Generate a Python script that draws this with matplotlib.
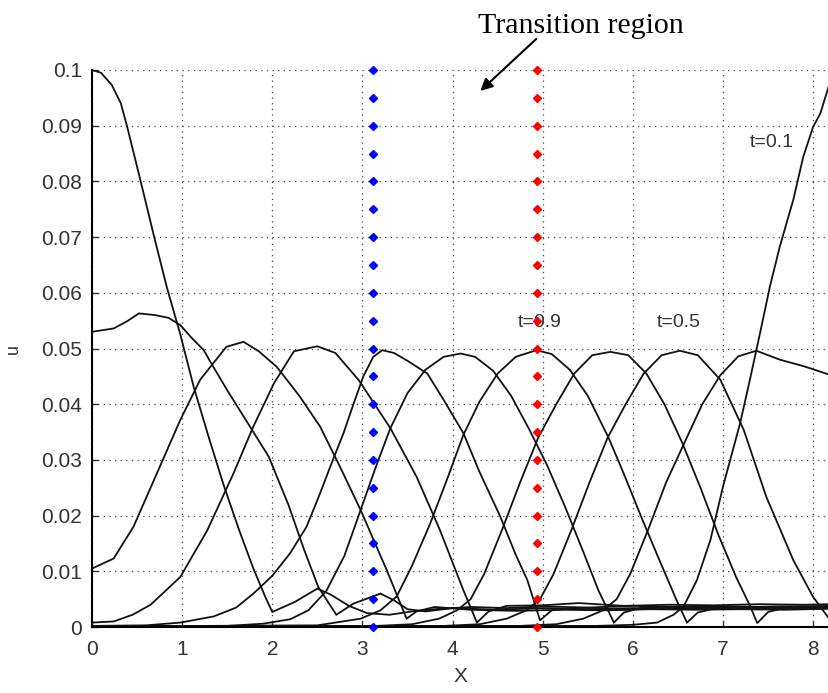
import matplotlib
matplotlib.use("Agg")
import matplotlib.pyplot as plt

# --- datos ---
# curva que arranca en u=0.1 en x=0
x_l0 = [0, 0.1, 0.22, 0.32, 0.39, 0.54, 0.69, 0.83, 0.98, 1.13, 1.3, 1.46, 1.63, 1.79, 1.92, 2.0,
        2.25, 2.5, 2.65, 2.85, 3.05, 3.3, 3.55, 3.8, 4.2, 4.6, 5.0, 5.5, 6.0, 6.5, 7.0, 7.5, 8.2]
u_l0 = [0.1, 0.0995, 0.0973, 0.094, 0.0898, 0.08, 0.07, 0.061, 0.0525, 0.043, 0.0338, 0.0255, 0.0175,
        0.0105, 0.0055, 0.0027, 0.0045, 0.0069, 0.0058, 0.0038, 0.0025, 0.0022, 0.0028, 0.0032, 0.0036,
        0.0034, 0.0037, 0.0035, 0.0038, 0.0036, 0.0037, 0.0036, 0.0038]

x_p1 = [0, 0.24, 0.4, 0.52, 0.7, 0.85, 0.98, 1.1, 1.24, 1.31, 1.5, 1.74, 1.96, 2.18, 2.35, 2.51, 2.71,
        2.9, 3.2, 3.35, 3.5, 3.7, 4.0, 4.5, 5.0, 5.5, 6.0, 6.5, 7.0, 7.5, 8.2]
u_p1 = [0.053, 0.0536, 0.055, 0.0563, 0.056, 0.0555, 0.0542, 0.052, 0.0497, 0.0477, 0.0425, 0.0363,
        0.0306, 0.0219, 0.014, 0.0072, 0.0022, 0.0042, 0.006, 0.0048, 0.0032, 0.0028, 0.0034, 0.0031,
        0.0034, 0.0032, 0.0034, 0.0033, 0.0035, 0.0034, 0.0035]

x_p2 = [0, 0.24, 0.46, 0.72, 0.98, 1.2, 1.49, 1.68, 1.85, 2.05, 2.3, 2.53, 2.75, 2.98, 3.27, 3.49,
        3.6, 3.8, 4.2, 4.7, 5.2, 5.7, 6.2, 6.7, 7.2, 7.7, 8.2]
u_p2 = [0.0105, 0.0123, 0.018, 0.0276, 0.0372, 0.0444, 0.0503, 0.0512, 0.0495, 0.0467, 0.0415, 0.036,
        0.0288, 0.021, 0.0102, 0.0015, 0.0028, 0.0036, 0.0031, 0.0029, 0.0031, 0.003, 0.0032, 0.0031,
        0.0032, 0.0031, 0.0033]

x_p3 = [0, 0.24, 0.45, 0.65, 0.98, 1.28, 1.57, 1.79, 2.02, 2.24, 2.5, 2.7, 2.96, 3.31, 3.6, 3.86,
        4.12, 4.27, 4.4, 4.6, 5.0, 5.4, 5.9, 6.4, 6.9, 7.4, 7.9, 8.2]
u_p3 = [0.0008, 0.001, 0.0022, 0.004, 0.009, 0.0174, 0.0276, 0.036, 0.0438, 0.0495, 0.0504, 0.0492,
        0.0443, 0.0357, 0.027, 0.0174, 0.0066, 0.0008, 0.0028, 0.0038, 0.0039, 0.0043, 0.0038, 0.004,
        0.0039, 0.0041, 0.004, 0.0041]

x_p4 = [0, 0.6, 0.98, 1.35, 1.6, 1.79, 2.0, 2.2, 2.38, 2.53, 2.66, 2.79, 2.9, 3.01, 3.12, 3.22, 3.35,
        3.5, 3.72, 3.9, 4.12, 4.3, 4.53, 4.7, 4.83, 4.97, 5.1, 5.3, 5.8, 6.3, 6.8, 7.3, 7.8, 8.2]
u_p4 = [0.0002, 0.0003, 0.0008, 0.0019, 0.0035, 0.006, 0.0092, 0.0133, 0.018, 0.024, 0.0295, 0.0348,
        0.04, 0.045, 0.0485, 0.0497, 0.0492, 0.0478, 0.0455, 0.0408, 0.0348, 0.0278, 0.0198, 0.013,
        0.0084, 0.0012, 0.003, 0.0033, 0.0031, 0.0033, 0.0032, 0.0034, 0.0033, 0.0034]

x_p5 = [0, 1.5, 1.9, 2.2, 2.4, 2.6, 2.8, 2.98, 3.15, 3.31, 3.5, 3.7, 3.9, 4.09, 4.25, 4.45, 4.65,
        4.85, 5.05, 5.25, 5.45, 5.62, 5.79, 5.9, 6.1, 6.6, 7.1, 7.6, 8.2]
u_p5 = [0.0001, 0.0002, 0.0006, 0.0014, 0.003, 0.0065, 0.0128, 0.021, 0.0288, 0.0357, 0.042, 0.0462,
        0.0485, 0.0491, 0.0485, 0.046, 0.0415, 0.0355, 0.029, 0.0215, 0.0135, 0.0065, 0.0008, 0.0026,
        0.0035, 0.0036, 0.0035, 0.0037, 0.0036]

x_p6 = [0, 2.5, 2.98, 3.2, 3.38, 3.55, 3.75, 3.95, 4.12, 4.3, 4.5, 4.7, 4.93, 5.1, 5.3, 5.5, 5.73,
        5.9, 6.1, 6.3, 6.48, 6.6, 6.72, 6.9, 7.4, 7.9, 8.2]
u_p6 = [0.0001, 0.0003, 0.0015, 0.003, 0.0055, 0.011, 0.0185, 0.027, 0.0345, 0.0405, 0.0455, 0.0485,
        0.0497, 0.049, 0.0462, 0.0415, 0.034, 0.0275, 0.0195, 0.0118, 0.005, 0.0008, 0.0026, 0.0033,
        0.0032, 0.0034, 0.0033]

x_p7 = [0, 3.15, 3.55, 3.85, 4.05, 4.2, 4.35, 4.55, 4.75, 4.95, 5.15, 5.35, 5.55, 5.75, 5.95, 6.15,
        6.35, 6.55, 6.75, 6.95, 7.15, 7.3, 7.38, 7.5, 7.7, 8.2]
u_p7 = [0.0001, 0.0002, 0.0005, 0.0015, 0.003, 0.005, 0.0095, 0.0175, 0.026, 0.034, 0.04, 0.0455,
        0.0488, 0.0494, 0.0488, 0.0455, 0.04, 0.033, 0.025, 0.0165, 0.0088, 0.0038, 0.0007, 0.0027,
        0.0035, 0.0036]

x_p8 = [0, 3.9, 4.3, 4.6, 4.82, 4.97, 5.12, 5.32, 5.52, 5.72, 5.92, 6.12, 6.32, 6.52, 6.72, 6.97,
        7.23, 7.48, 7.78, 8.0, 8.2]
u_p8 = [0.0001, 0.0002, 0.0005, 0.0015, 0.003, 0.005, 0.0095, 0.0175, 0.026, 0.034, 0.04, 0.0455,
        0.0488, 0.0496, 0.0488, 0.0444, 0.0354, 0.0234, 0.012, 0.0054, 0.001]

x_p9 = [0, 4.75, 5.15, 5.45, 5.67, 5.82, 5.97, 6.17, 6.37, 6.57, 6.77, 6.97, 7.17, 7.37, 7.63, 7.9, 8.2]
u_p9 = [0.0001, 0.0002, 0.0005, 0.0015, 0.003, 0.005, 0.0095, 0.0175, 0.026, 0.033, 0.04, 0.0452,
        0.0486, 0.0496, 0.048, 0.0468, 0.0452]

# curva t=0.1 (sube hasta 0.1 en el borde derecho)
x_r = [0, 5.6, 6.0, 6.27, 6.45, 6.56, 6.71, 6.86, 7.0, 7.19, 7.3, 7.41, 7.52, 7.63, 7.78, 7.89, 8.0,
       8.08, 8.2]
u_r = [0.0001, 0.0002, 0.0004, 0.0008, 0.0022, 0.0036, 0.0084, 0.0156, 0.0252, 0.0366, 0.0445,
       0.0527, 0.0611, 0.0683, 0.0767, 0.0844, 0.0898, 0.0922, 0.0985]

curvas = [(x_l0, u_l0), (x_p1, u_p1), (x_p2, u_p2), (x_p3, u_p3), (x_p4, u_p4), (x_p5, u_p5),
          (x_p6, u_p6), (x_p7, u_p7), (x_p8, u_p8), (x_p9, u_p9), (x_r, u_r)]

# limites de la zona de transicion
x_azul = 3.12
x_rojo = 4.94
u_marcas = [0, 0.005, 0.01, 0.015, 0.02, 0.025, 0.03, 0.035, 0.04, 0.045, 0.05,
            0.055, 0.06, 0.065, 0.07, 0.075, 0.08, 0.085, 0.09, 0.095, 0.1]

xticks = [0, 1, 2, 3, 4, 5, 6, 7, 8]
yticks = [0, 0.01, 0.02, 0.03, 0.04, 0.05, 0.06, 0.07, 0.08, 0.09, 0.1]
ytick_labels = ["0", "0.01", "0.02", "0.03", "0.04", "0.05", "0.06", "0.07", "0.08", "0.09", "0.1"]

plt.rcParams["font.family"] = ["Liberation Sans", "DejaVu Sans"]

fig = plt.figure(figsize=(8.29, 6.93), dpi=100)
ax = fig.add_axes([0.111, 0.0952, 0.889, 0.8038])

for xs, us in curvas:
    ax.plot(xs, us, color="#111111", lw=1.3, solid_joinstyle="miter")

ax.plot([x_azul] * len(u_marcas), u_marcas, ls="none", marker="D", ms=3.6,
        color="#0000ff", clip_on=False, zorder=5)
ax.plot([x_rojo] * len(u_marcas), u_marcas, ls="none", marker="D", ms=3.6,
        color="#ff0000", clip_on=False, zorder=5)

ax.set_xlim(0, 8.176)
ax.set_ylim(0, 0.1)
ax.set_xticks(xticks)
ax.set_yticks(yticks)
ax.set_yticklabels(ytick_labels)
ax.grid(True, color="#444444", linestyle=(0, (1, 3.5)), lw=0.9)
ax.set_axisbelow(True)

for lado in ["top", "right"]:
    ax.spines[lado].set_visible(False)
for lado in ["left", "bottom"]:
    ax.spines[lado].set_linewidth(1.5)
ax.tick_params(direction="in", length=4, width=1.0, labelsize=15, colors="#333333")
ax.tick_params(axis="x", pad=9)
ax.tick_params(axis="y", pad=7)

ax.set_xlabel("X", fontsize=15, color="#333333", labelpad=6)
ax.set_ylabel("u", fontsize=13, color="#333333", labelpad=14)

# etiquetas de tiempo
ax.text(7.30, 0.0869, "t=0.1", fontsize=14, color="#333333", va="center")
ax.text(4.72, 0.0546, "t=0.9", fontsize=14, color="#333333", va="center")
ax.text(6.27, 0.0546, "t=0.5", fontsize=14, color="#333333", va="center")

fig.text(0.5766, 0.952, "Transition region", family="Liberation Serif", fontsize=21.5,
         color="black", va="baseline")
ax.annotate("", xy=(4.285, 0.0959), xytext=(4.95, 0.1059), annotation_clip=False,
            arrowprops=dict(arrowstyle="-|>", color="black", lw=1.5, mutation_scale=18))

fig.savefig("out.png", dpi=100)
